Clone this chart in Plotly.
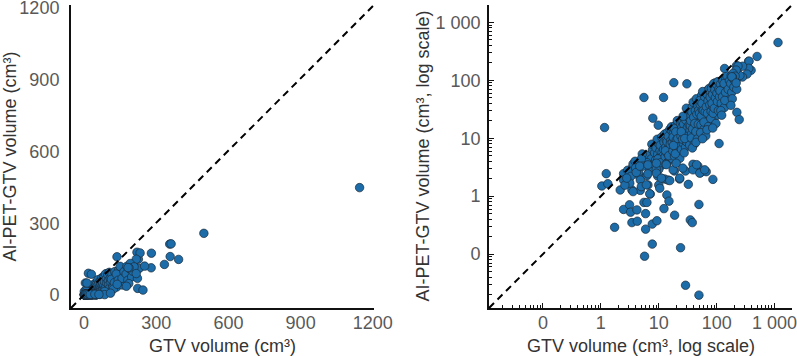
import plotly.graph_objects as go

# ---------------- data (cm3) ----------------
gtv_large = [1145, 498, 356, 362, 393, 358, 334, 280, 279, 252, 220, 233, 137, 217, 192, 208, 187, 223, 245, 176, 183, 217]
ai_large = [449, 258, 213, 214, 149, 161, 128, 175, 114, 121, 179, 176, 160, 150, 132, 118, 114, 28, 21, 37, 115, 90]

gtv_small = [1.16, 1.24, 1.04, 1.32, 1.73, 2.47, 2.47, 2.16, 2.47, 3.13,
             3.26, 4.2, 3.44, 4.26, 3.05, 3.44, 3.58, 4.68, 4.79, 3.6,
             3.9, 5.55, 5.19, 6.25, 6.25, 6.5, 5.55, 6.25, 5.93, 5.93,
             5.69, 7.13, 7.73, 7.73, 9.3, 7.9, 9.8, 12.1, 18.2, 30.6,
             9.05, 9.6, 10, 12.6, 14.4, 13.8, 15, 12.3, 18.8, 23.8,
             29, 49.4, 35, 37.9, 49.4, 32.4, 22.9, 18.6, 29, 39,
             47.5, 52.8, 66, 86, 110, 2.9, 3.3, 4.0, 4.5, 5.0,
             5.3, 4.8, 3.16, 3.6, 5.0, 6.1, 7.0, 10.4, 15.5, 23,
             39, 51, 2.6, 2.8, 4.1, 6.5, 9.1, 11.1, 17.7, 4.7,
             6.5, 9.1, 13.5, 20, 26, 45, 62]
ai_small = [15.3, 2.45, 1.5, 1.64, 0.29, 2.45, 1.9, 1.28, 0.59, 0.71,
            0.53, 0.58, 0.35, 0.37, 1.78, 1.28, 3.24, 2.17, 1.26, 3.6,
            4.0, 50.5, 5.36, 3.8, 2.26, 1.56, 0.78, 0.78, 0.5, 0.27,
            0.092, 1.09, 0.149, 0.33, 0.377, 22.2, 16.8, 50.5, 91, 87,
            2.91, 2.22, 1.56, 1.98, 1.9, 1.05, 0.82, 0.61, 0.47, 0.129,
            0.029, 0.0196, 0.39, 0.35, 0.72, 1.6, 1.98, 2.72, 2.72, 3.55,
            3.3, 2.55, 2.65, 1.95, 8.1, 2.8, 2.2, 3.1, 2.6, 4.4,
            3.3, 1.9, 1.68, 1.2, 1.46, 1.57, 1.1, 1.37, 1.86, 2.05,
            2.85, 2.5, 1.55, 2.05, 2.57, 2.43, 2.5, 2.05, 2.85, 3.3,
            3.47, 3.7, 3.5, 3.7, 3.05, 3.5, 2.85]

gtv_cluster = [6.2, 6.6, 7.0, 7.4, 7.8, 8.1, 8.5, 6.9, 7.6, 8.8,
               9.0, 9.3, 9.6, 9.9, 10.2, 10.5, 10.8, 11.1, 11.4, 11.8,
               12.0, 9.4, 10.0, 10.6, 11.2, 11.9, 12.3, 9.7, 10.9, 12.1,
               12.6, 12.9, 13.2, 13.5, 13.8, 14.1, 14.4, 14.7, 15.0, 15.3,
               15.6, 15.9, 16.2, 16.5, 16.8, 13.1, 13.9, 14.6, 15.4, 16.0,
               16.9, 13.4, 14.9, 15.8, 16.6,
               17.1, 17.5, 17.9, 18.3, 18.7, 19.1, 19.5, 19.9, 20.3, 20.7,
               21.1, 21.5, 21.9, 22.3, 22.7, 23.1, 23.5, 23.9, 17.7, 18.5,
               19.3, 20.1, 20.9, 21.7, 22.5, 23.3, 18.0, 19.7, 21.3, 23.7,
               24.2, 24.8, 25.4, 26.0, 26.6, 27.2, 27.8, 28.4, 29.0, 29.6,
               30.2, 30.8, 31.4, 32.0, 32.6, 33.2, 33.8, 34.4, 25.1, 25.7,
               26.9, 27.5, 28.7, 29.3, 30.5, 31.1, 31.7, 32.9, 33.5, 34.1,
               24.5, 26.3, 28.1, 30.0, 34.7,
               35.2, 36.1, 37.0, 37.9, 38.8, 39.7, 40.6, 41.5, 42.4, 43.3,
               44.2, 45.1, 46.0, 46.9, 47.8, 48.7, 49.6, 35.6, 36.5, 37.4,
               38.3, 39.2, 40.1, 41.0, 41.9, 42.8, 43.7, 44.6, 45.5, 46.4,
               47.3, 48.2, 49.1, 38.0, 44.0,
               50.5, 52.0, 53.5, 55.0, 56.5, 58.0, 59.5, 61.0, 62.5, 64.0,
               65.5, 67.0, 68.5, 70.0, 71.5, 73.0, 74.5, 51.2, 52.8, 54.3,
               55.8, 57.3, 58.8, 60.3, 61.8, 63.3, 64.8, 66.3, 67.8, 69.3,
               70.8, 72.3, 73.8, 57.0, 68.0,
               76, 78, 80, 82, 84, 86, 88, 90, 92, 94,
               96, 98, 100, 102, 104, 106, 108, 77, 79, 81,
               83, 85, 87, 89, 91, 93, 95, 97, 99, 101,
               103, 105, 107, 109, 85.5,
               112, 116, 120, 124, 128, 132, 136, 140, 144, 148,
               152, 156, 160, 164, 168, 114, 118, 126, 134, 142,
               150, 158, 166, 122, 138,
               175, 182, 190, 198, 206, 214, 222, 230, 178, 186,
               202, 226]
ai_cluster = [3.9, 5.1, 3.2, 4.4, 6.3, 3.6, 5.6, 2.7, 7.9, 4.2,
              6.8, 3.9, 5.3, 8.1, 4.6, 6.1, 9.4, 3.4, 5.7, 7.2,
              4.1, 9.6, 2.9, 7.6, 10.5, 5.0, 8.6, 4.4, 3.8, 6.4,
              11.8, 4.8, 7.0, 9.2, 5.6, 12.6, 3.9, 8.0, 6.3, 10.1,
              14.3, 4.6, 7.3, 11.4, 5.5, 6.1, 8.7, 10.8, 4.4, 9.0,
              13.2, 3.6, 5.0, 7.9, 15.8,
              8.4, 6.0, 12.0, 9.8, 4.9, 16.5, 7.1, 11.0, 5.8, 14.0,
              8.9, 18.6, 6.7, 12.8, 10.0, 4.5, 15.2, 7.8, 10.5, 14.8,
              5.4, 9.3, 20.2, 11.6, 7.2, 13.6, 7.5, 12.9, 9.9, 17.8,
              10.8, 6.4, 19.0, 13.4, 8.2, 22.5, 11.2, 16.0, 7.0, 25.0,
              12.5, 18.2, 9.1, 28.0, 14.6, 20.8, 10.6, 31.0, 15.5, 9.6,
              17.5, 5.6, 12.9, 20.5, 8.6, 15.4, 23.3, 11.9, 17.0, 7.6,
              13.0, 24.0, 9.9, 33.0, 13.8,
              16.4, 24.5, 12.0, 35.0, 19.0, 9.5, 28.5, 15.0, 40.0, 21.6,
              11.4, 32.0, 18.4, 25.8, 14.1, 44.0, 22.0, 20.0, 10.1, 28.0,
              14.5, 42.0, 23.0, 7.9, 18.0, 30.0, 13.0, 48.0, 26.0, 9.7,
              36.0, 17.5, 30.5, 6.8, 8.5,
              27.0, 38.0, 17.0, 55.0, 31.0, 22.5, 46.0, 14.5, 36.0, 60.0,
              26.0, 42.0, 19.5, 68.0, 33.0, 50.0, 24.0, 45.0, 12.5, 24.0,
              40.0, 64.0, 30.0, 19.0, 52.0, 28.5, 11.0, 35.0, 58.0, 27.0,
              44.0, 16.0, 72.0, 9.8, 14.0,
              38, 62, 29, 48, 80, 35, 20, 55, 42, 90,
              31, 66, 47, 25, 76, 38, 58, 51, 22, 72,
              40, 57, 27, 88, 33, 68, 50, 18, 85, 60,
              43, 95, 30, 70, 15,
              52, 86, 40, 70, 98, 58, 34, 80, 105, 48,
              66, 92, 42, 74, 56, 66, 30, 52, 88, 62,
              120, 70, 98, 25, 45,
              88, 62, 110, 76, 130, 95, 70, 112, 120, 48,
              100, 150]

assert len(gtv_large) == len(ai_large)
assert len(gtv_small) == len(ai_small)
assert len(gtv_cluster) == len(ai_cluster)

gtv = gtv_cluster + gtv_small + gtv_large
ai = ai_cluster + ai_small + ai_large

lin_ticks = [0, 300, 600, 900, 1200]
log_tickvals = [0.1, 1, 10, 100, 1000]
log_ticktext = ["0", "1", "10", "100", "1 000"]

x_title_lin = "GTV volume (cm³)"
y_title_lin = "AI-PET-GTV volume (cm³)"
x_title_log = "GTV volume (cm³, log scale)"
y_title_log = "AI-PET-GTV volume (cm³, log scale)"

# ---------------- styling ----------------
W, H = 797, 356
FONT = "Liberation Sans, Arial, sans-serif"
TICK_COL = "#595959"
TITLE_COL = "#333333"
AX_COL = "#111111"
marker = dict(size=8.5, color="#1b6ca8", line=dict(width=0.7, color="#1d2b3a"))

fig = go.Figure()
fig.add_trace(go.Scatter(x=gtv, y=ai, mode="markers", marker=marker,
                         xaxis="x", yaxis="y", showlegend=False, hoverinfo="skip"))
fig.add_trace(go.Scatter(x=gtv, y=ai, mode="markers", marker=marker,
                         xaxis="x2", yaxis="y2", showlegend=False, hoverinfo="skip"))

common = dict(showline=True, linecolor=AX_COL, linewidth=2, showgrid=False,
              zeroline=False, tickfont=dict(size=18, color=TICK_COL, family=FONT),
              ticklabeloverflow="allow", automargin=False)

ydom = [0.1348, 0.986]
xdom1 = [0.0891, 0.4693]
xdom2 = [0.6136, 0.9937]
minor_log = dict(ticks="inside", ticklen=3, tickwidth=1, tickcolor=AX_COL, dtick="D1", showgrid=False)

fig.update_layout(
    width=W, height=H, autosize=False,
    margin=dict(l=0, r=0, t=0, b=0, pad=0),
    paper_bgcolor="white", plot_bgcolor="white",
    font=dict(family=FONT, size=18, color=TITLE_COL),
    xaxis=dict(domain=xdom1, range=[-54, 1205], anchor="y",
               tickvals=lin_ticks, ticks="", ticklabelstandoff=-3, **common),
    yaxis=dict(domain=ydom, range=[-54, 1212], anchor="x",
               tickvals=lin_ticks, ticks="", ticklabelstandoff=6, **common),
    xaxis2=dict(domain=xdom2, type="log", range=[-1.93, 3.30], anchor="y2",
                tickvals=log_tickvals, ticktext=log_ticktext,
                ticks="inside", ticklen=5, tickwidth=1, tickcolor=AX_COL,
                minor=minor_log, ticklabelstandoff=-3, **common),
    yaxis2=dict(domain=ydom, type="log", range=[-1.93, 3.30], anchor="x2",
                tickvals=log_tickvals, ticktext=log_ticktext,
                ticks="inside", ticklen=5, tickwidth=1, tickcolor=AX_COL,
                minor=minor_log, ticklabelstandoff=3, **common),
)

# axis titles as annotations (precise placement)
title_font = dict(size=18, color=TITLE_COL, family=FONT)
ymid = (ydom[0] + ydom[1]) / 2
fig.add_annotation(text=x_title_lin, xref="paper", yref="paper", x=sum(xdom1) / 2, y=10 / H,
                   xanchor="center", yanchor="middle", showarrow=False, font=title_font)
fig.add_annotation(text=x_title_log, xref="paper", yref="paper", x=sum(xdom2) / 2, y=10 / H,
                   xanchor="center", yanchor="middle", showarrow=False, font=title_font)
fig.add_annotation(text=y_title_lin, xref="paper", yref="paper", x=10 / W, y=ymid,
                   xanchor="center", yanchor="middle", textangle=-90, showarrow=False, font=title_font)
fig.add_annotation(text=y_title_log, xref="paper", yref="paper", x=423 / W, y=ymid,
                   xanchor="center", yanchor="middle", textangle=-90, showarrow=False, font=title_font)

for xr, yr in (("x domain", "y domain"), ("x2 domain", "y2 domain")):
    fig.add_shape(type="line", xref=xr, yref=yr, x0=0, y0=0, x1=1, y1=1,
                  line=dict(color="black", width=2, dash="7px,5px"), layer="above")

fig.write_html("out.html")
